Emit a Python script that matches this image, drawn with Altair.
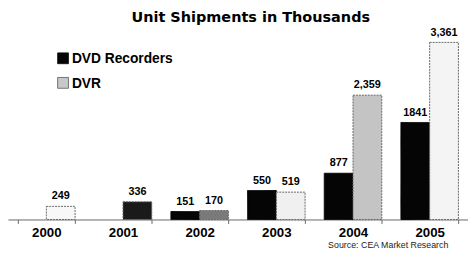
import altair as alt
import pandas as pd

TITLE = "Unit Shipments in Thousands"
SOURCE = "Source: CEA Market Research"
YEARS = ["2000", "2001", "2002", "2003", "2004", "2005"]
SERIES = ["DVD Recorders", "DVR"]
DVD = [None, None, 151, 550, 877, 1841]
DVR = [249, 336, 170, 519, 2359, 3361]
DVD_LABELS = ["", "", "151", "550", "877", "1841"]
DVR_LABELS = ["249", "336", "170", "519", "2,359", "3,361"]

# styles (kept apart from the data)
DVD_FILL = "#050505"
DVR_FILLS = ["#f8f8f8", "#1a1a1a", "#7a7a7a", "#f0f0f0", "#c4c4c4", "#f4f4f4"]
LEGEND_FILLS = [DVD_FILL, "#c8c8c8"]

rows = []
for i, yr in enumerate(YEARS):
    if DVD[i] is not None:
        rows.append(dict(year=yr, series=SERIES[0], value=DVD[i], label=DVD_LABELS[i],
                         fill=DVD_FILL, stroke=DVD_FILL))
    if DVR[i] is not None:
        rows.append(dict(year=yr, series=SERIES[1], value=DVR[i], label=DVR_LABELS[i],
                         fill=DVR_FILLS[i], stroke="#666666"))
df = pd.DataFrame(rows)

FONT = "Liberation Sans"

x = alt.X("year:N", sort=YEARS,
          scale=alt.Scale(domain=YEARS, paddingInner=0.25, paddingOuter=0.125),
          axis=alt.Axis(title=None, labelAngle=0, labelFont=FONT, labelFontWeight="bold",
                        labelFontSize=13.5, labelColor="#000000", domainColor="#666666",
                        tickColor="#666666", tickSize=4, tickBand="extent",
                        labelPadding=2, grid=False))
xo = alt.XOffset("series:N", sort=SERIES,
                 scale=alt.Scale(domain=SERIES, paddingInner=0, paddingOuter=0))
y = alt.Y("value:Q", scale=alt.Scale(domain=[0, 3600], nice=False), axis=None)

bars = alt.Chart(df).mark_bar(strokeWidth=1).encode(
    x=x, xOffset=xo, y=y,
    fill=alt.Fill("fill:N", scale=None),
    stroke=alt.Stroke("stroke:N", scale=None),
    strokeDash=alt.condition(alt.datum.series == "DVR", alt.value([2, 1]), alt.value([1, 0])),
)

labels = alt.Chart(df).mark_text(font=FONT, fontWeight="bold", fontSize=11,
                                 baseline="alphabetic", dy=-7, color="#000000").encode(
    x=x, xOffset=xo, y=y, text="label:N")

layers = [bars, labels]

leg_df = pd.DataFrame({"series": SERIES})
for i, s in enumerate(SERIES):
    one = leg_df[leg_df.series == s]
    sq = alt.Chart(one).mark_square(size=121, filled=True, fill=LEGEND_FILLS[i],
                                    stroke="#555555" if i else DVD_FILL, strokeWidth=0.8,
                                    opacity=1).encode(
        x=alt.value(56), y=alt.value(29 + 25 * i))
    tx = alt.Chart(one).mark_text(font=FONT, fontWeight="bold", fontSize=14, align="left",
                                  baseline="alphabetic", color="#000000").encode(
        x=alt.value(65), y=alt.value(34 + 25 * i), text="series:N")
    layers += [sq, tx]

src = alt.Chart(pd.DataFrame({"t": [SOURCE]})).mark_text(
    font=FONT, fontSize=9, align="right", baseline="alphabetic", color="#222222").encode(
    x=alt.value(448), y=alt.value(222), text="t:N")
layers.append(src)

ttl = alt.Chart(pd.DataFrame({"t": [TITLE]})).mark_text(
    font="DejaVu Sans", fontSize=14.7, fontWeight="bold", align="center",
    baseline="alphabetic", color="#000000").encode(
    x=alt.value(247), y=alt.value(-8), text="t:N")
layers.append(ttl)

chart = alt.layer(*layers).properties(
    width=468, height=193,
    padding={"left": 0, "top": 20, "right": 0, "bottom": 36},
    autosize=alt.AutoSizeParams(type="none"),
    background="white",
).configure_view(stroke=None)

chart.save("out.html", embed_options={"renderer": "svg", "actions": False})
